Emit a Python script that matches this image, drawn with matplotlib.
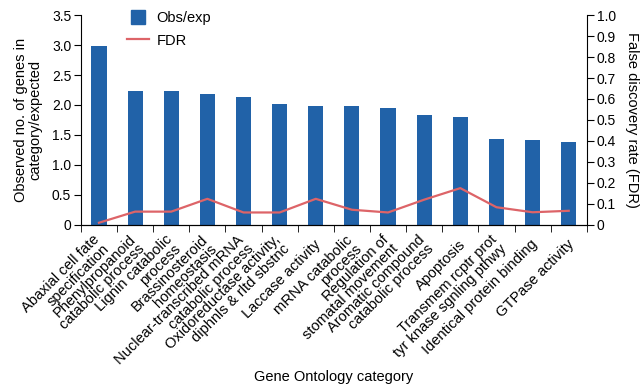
import matplotlib
matplotlib.use("Agg")
import matplotlib.pyplot as plt
from matplotlib.lines import Line2D
from matplotlib.transforms import ScaledTranslation
import numpy as np

plt.rcParams['font.family'] = ['Liberation Sans', 'DejaVu Sans']

categories = [
    "Abaxial cell fate\nspecification",
    "Phenylpropanoid\ncatabolic process",
    "Lignin catabolic\nprocess",
    "Brassinosteroid\nhomeostasis",
    "Nuclear-transcribed mRNA\ncatabolic process",
    "Oxidoreductase activity,\ndiphnls & rltd sbstnc",
    "Laccase activity",
    "mRNA catabolic\nprocess",
    "Regulation of\nstomatal movement",
    "Aromatic compound\ncatabolic process",
    "Apoptosis",
    "Transmem rcptr prot\ntyr knase sgnling pthwy",
    "Identical protein binding",
    "GTPase activity",
]
obs_exp = [2.98, 2.23, 2.23, 2.18, 2.13, 2.02, 1.98, 1.98, 1.95, 1.84, 1.80, 1.44, 1.41, 1.39]
fdr = [0.01, 0.063, 0.063, 0.124, 0.059, 0.059, 0.124, 0.072, 0.059, 0.12, 0.175, 0.084, 0.06, 0.067]

left_ticks = [0, 0.5, 1.0, 1.5, 2.0, 2.5, 3.0, 3.5]
left_labels = ["0", "0.5", "1.0", "1.5", "2.0", "2.5", "3.0", "3.5"]
right_ticks = [0, 0.1, 0.2, 0.3, 0.4, 0.5, 0.6, 0.7, 0.8, 0.9, 1.0]
right_labels = ["0", "0.1", "0.2", "0.3", "0.4", "0.5", "0.6", "0.7", "0.8", "0.9", "1.0"]

bar_color = "#2162a8"
line_color = "#dd6468"
fs = 10.5
fs_tick = 10

fig = plt.figure(figsize=(6.42, 3.87), dpi=100)
ax = fig.add_axes([0.126, 0.419, 0.788, 0.542])
x = np.arange(len(categories))
ax.bar(x, obs_exp, width=0.42, color=bar_color, zorder=2)
ax.set_xlim(-0.5, len(categories) - 0.5)
ax.set_ylim(0, 3.5)
ax.set_yticks(left_ticks)
ax.set_yticklabels(left_labels, fontsize=fs_tick)
ax.spines['top'].set_visible(False)
ax.spines['right'].set_visible(False)
ax.set_xticks(x)
ax.set_xticklabels(categories, rotation=45, ha='right', va='center',
                   rotation_mode='anchor', fontsize=fs, multialignment='right',
                   linespacing=0.9)
ax.tick_params(axis='x', which='major', length=0, pad=12.5)
shift = ScaledTranslation(3 / 100, 0, fig.dpi_scale_trans)
for lab in ax.get_xticklabels():
    lab.set_transform(lab.get_transform() + shift)
ax.set_xticks(np.arange(-0.5, len(categories), 1.0), minor=True)
ax.tick_params(axis='x', which='minor', length=5, direction='out')
ax.tick_params(axis='y', length=5, direction='out', labelsize=fs_tick, pad=2)
ax.set_ylabel("Observed no. of genes in\ncategory/expected", fontsize=fs, linespacing=1.0)
ax.yaxis.set_label_coords(-0.077, 0.5)
ax.set_xlabel("Gene Ontology category", fontsize=fs)
ax.xaxis.set_label_coords(0.5, -0.69)

ax2 = ax.twinx()
ax2.plot(x, fdr, color=line_color, linewidth=1.6, solid_joinstyle='round', zorder=3)
ax2.set_ylim(0, 1.0)
ax2.set_yticks(right_ticks)
ax2.set_yticklabels(right_labels, fontsize=fs_tick)
ax2.spines['top'].set_visible(False)
ax2.spines['left'].set_visible(False)
ax2.tick_params(axis='y', length=5, direction='out', labelsize=fs_tick, pad=2)
ax2.set_ylabel("False discovery rate (FDR)", fontsize=fs, rotation=270, va='top')
ax2.yaxis.set_label_coords(1.103, 0.5)

handles = [
    Line2D([], [], marker='s', color=bar_color, linestyle='None', markersize=10),
    Line2D([], [], color=line_color, linewidth=1.6),
]
ax.legend(handles, ["Obs/exp", "FDR"], loc='upper left', bbox_to_anchor=(0.08, 1.045),
          frameon=False, fontsize=fs, handlelength=1.5, handletextpad=0.5,
          labelspacing=0.55, borderaxespad=0)

fig.savefig("out.png", dpi=100)
